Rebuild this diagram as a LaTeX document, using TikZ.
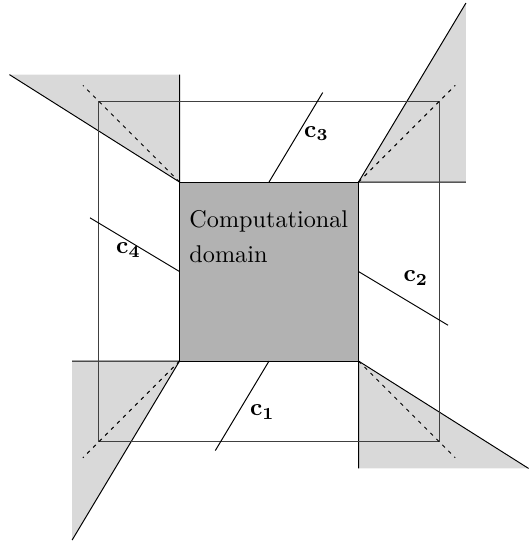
\documentclass[tikz,border=0pt]{standalone}
\usepackage{amsmath,amssymb}
\usepackage{tikz}

\begin{document}
\begin{tikzpicture}[scale=1.3]
            % 边界框
            \useasboundingbox (-3.006,-3.022) rectangle (2.905,3.034);
            
            % 四角灰色区域
            \fill[black!15] (-1,1)--(-2.9,2.2)--(-1,2.2)--cycle;
            \fill[black!15] (1,1)--(2.2,3)--(2.2,1)--cycle;
            \fill[black!15] (-1,-1)--(-2.2,-3)--(-2.2,-1)--cycle;
            \fill[black!15] (1,-1)--(2.9,-2.2)--(1,-2.2)--cycle;
            
            % 灰色区域边线
            \draw (-2.9,2.2)--(-1,1)--(-1,2.2);
            \draw (2.2,3)--(1,1)--(2.2,1);
            \draw (-2.2,-3)--(-1,-1)--(-2.2,-1);
            \draw (2.9,-2.2)--(1,-1)--(1,-2.2);
            
            % 外框
            \draw[black!75] (-1.9,-1.9) rectangle (1.9,1.9);
            
            % 对角虚线
            \draw[dash pattern=on 1.5pt off 2pt] (-1,1)--(-2.08,2.08);
            \draw[dash pattern=on 1.5pt off 2pt] (1,1)--(2.08,2.08);
            \draw[dash pattern=on 1.5pt off 2pt] (-1,-1)--(-2.08,-2.08);
            \draw[dash pattern=on 1.5pt off 2pt] (1,-1)--(2.08,-2.08);
            
            % 计算域
            \filldraw[fill=black!30, draw=black] (-1,-1) rectangle (1,1);
            \node[anchor=north west, inner sep=0pt, align=left, font=\fontsize{10}{14.5}\selectfont] (domain) at(-0.894,0.69) {Computational\\domain};
            
            % c1--c4 线段及标注
            \draw (0,-1)--(-0.6,-2);
            \draw (1,0)--(2,-0.6);
            \draw (0,1)--(0.6,2);
            \draw (-1,0)--(-2,0.6);
            \node (c1) at(-0.075,-1.57) {$\mathbf{c_1}$};
            \node (c2) at(1.64,-0.07) {$\mathbf{c_2}$};
            \node (c3) at(0.53,1.54) {$\mathbf{c_3}$};
            \node (c4) at(-1.57,0.24) {$\mathbf{c_4}$};
        \end{tikzpicture}
\end{document}
